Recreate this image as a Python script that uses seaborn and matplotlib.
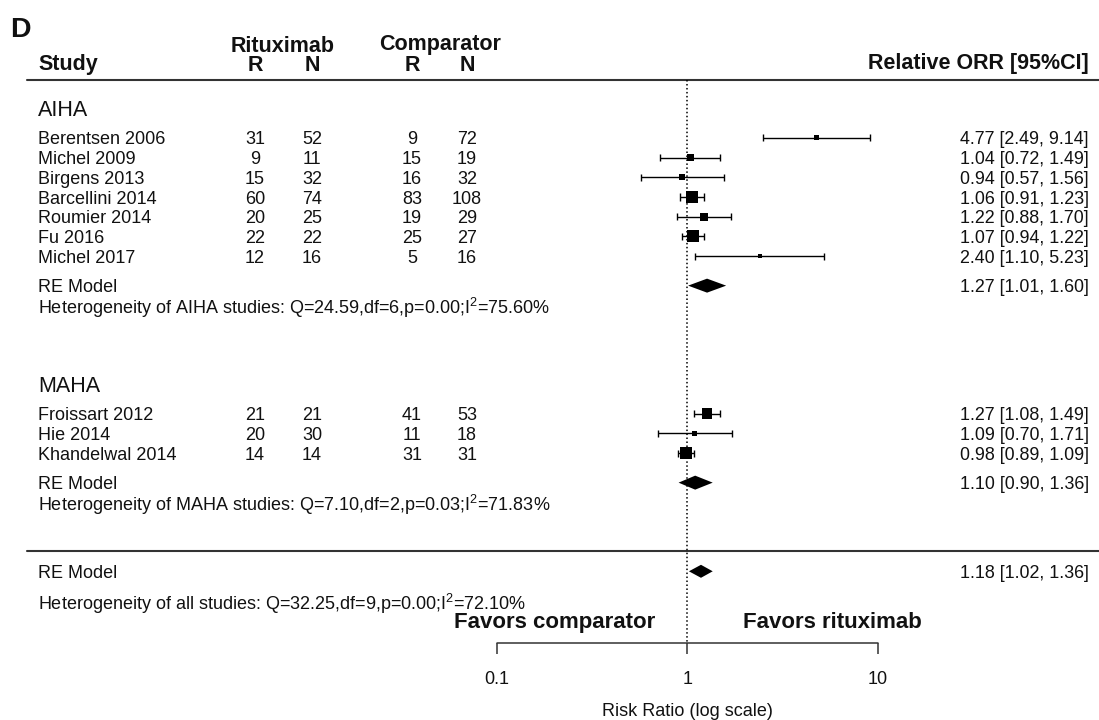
import numpy as np
import pandas as pd
import matplotlib
matplotlib.use("Agg")
import matplotlib.pyplot as plt
import seaborn as sns
from matplotlib.transforms import blended_transform_factory

# ---------------- data ----------------
studies = ["Berentsen 2006", "Michel 2009", "Birgens 2013", "Barcellini 2014",
           "Roumier 2014", "Fu 2016", "Michel 2017",
           "Froissart 2012", "Hie 2014", "Khandelwal 2014"]
groups = ["AIHA"] * 7 + ["MAHA"] * 3
rit_r = [31, 9, 15, 60, 20, 22, 12, 21, 20, 14]
rit_n = [52, 11, 32, 74, 25, 22, 16, 21, 30, 14]
com_r = [9, 15, 16, 83, 19, 25, 5, 41, 11, 31]
com_n = [72, 19, 32, 108, 29, 27, 16, 53, 18, 31]
rr = [4.77, 1.04, 0.94, 1.06, 1.22, 1.07, 2.40, 1.27, 1.09, 0.98]
ci_lo = [2.49, 0.72, 0.57, 0.91, 0.88, 0.94, 1.10, 1.08, 0.70, 0.89]
ci_hi = [9.14, 1.49, 1.56, 1.23, 1.70, 1.22, 5.23, 1.49, 1.71, 1.09]
weights = [4.0, 8.0, 5.5, 15.0, 9.0, 16.0, 2.5, 14.0, 4.5, 16.0]   # estimated

model_names = ["AIHA", "MAHA", "all"]
model_est = [1.27, 1.10, 1.18]
model_lo = [1.01, 0.90, 1.02]
model_hi = [1.60, 1.36, 1.36]
het_q = ["24.59", "7.10", "32.25"]
het_df = [6, 2, 9]
het_p = ["0.00", "0.03", "0.00"]
het_i2 = ["75.60", "71.83", "72.10"]

axis_ticks = [0.1, 1, 10]
axis_tick_labels = ["0.1", "1", "10"]

# ---------------- layout ----------------
W, H = 1099, 720
ROW = 19.7                      # pixels per row
study_rows = [7, 8, 9, 10, 11, 12, 13, 21, 22, 23]
group_label_rows = {"AIHA": 5.5, "MAHA": 19.5}
model_rows = [14.5, 24.5, 29.0]
het_rows = [15.5, 25.5, 30.5]
x_one_px, decade_px = 687.3, 190.3

sns.set_theme(style="white")
plt.rcParams["font.family"] = ["Liberation Sans", "DejaVu Sans"]
plt.rcParams["mathtext.fontset"] = "custom"
plt.rcParams["mathtext.rm"] = "Liberation Sans"
plt.rcParams["mathtext.it"] = "Liberation Sans:italic"
plt.rcParams["mathtext.bf"] = "Liberation Sans:bold"

fig = plt.figure(figsize=(W / 100, H / 100), dpi=100)
ax = fig.add_axes([0, 0, 1, 1])
ax.set_xscale("log")
ax.set_xlim(10 ** (-x_one_px / decade_px), 10 ** ((W - x_one_px) / decade_px))
ax.set_ylim(H / ROW, 0)
ax.axis("off")

tr = blended_transform_factory(ax.transAxes, ax.transData)
def fx(px):
    return px / W
def py(px):
    return px / ROW

TXT = "#111111"
LINE = "#333333"

# header
ax.text(fx(10), py(27), "D", transform=tr, fontsize=20.5, fontweight="bold",
        ha="left", va="center_baseline", color=TXT)
ax.text(fx(38), py(62), "Study", transform=tr, fontsize=15.5, fontweight="bold",
        ha="left", va="center_baseline", color=TXT)
ax.text(fx(283), py(44), "Rituximab", transform=tr, fontsize=15.5, fontweight="bold",
        ha="center", va="center_baseline", color=TXT)
ax.text(fx(440), py(42), "Comparator", transform=tr, fontsize=15.5, fontweight="bold",
        ha="center", va="center_baseline", color=TXT)
for xpx, lab in [(255, "R"), (312, "N"), (412, "R"), (467, "N")]:
    ax.text(fx(xpx), py(63), lab, transform=tr, fontsize=15.5, fontweight="bold",
            ha="center", va="center_baseline", color=TXT)
ax.text(fx(1089), py(61), "Relative ORR [95%CI]", transform=tr, fontsize=15.5,
        fontweight="bold", ha="right", va="center_baseline", color=TXT)

# horizontal rules
ax.plot([fx(27), 1], [py(80), py(80)], transform=tr, color=LINE, lw=1.5)
ax.plot([fx(27), 1], [py(551), py(551)], transform=tr, color=LINE, lw=1.5)

# group labels
for g, r in group_label_rows.items():
    ax.text(fx(38), r, g, transform=tr, fontsize=15.5, ha="left",
            va="center_baseline", color=TXT)

# study rows text
for i, s in enumerate(studies):
    r = study_rows[i]
    ax.text(fx(38), r, s, transform=tr, fontsize=13, ha="left",
            va="center_baseline", color=TXT)
    for xpx, v in [(255, rit_r[i]), (312, rit_n[i]), (412, com_r[i]), (467, com_n[i])]:
        ax.text(fx(xpx), r, str(v), transform=tr, fontsize=13, ha="center",
                va="center_baseline", color=TXT)
    ax.text(fx(1089), r, f"{rr[i]:.2f} [{ci_lo[i]:.2f}, {ci_hi[i]:.2f}]",
            transform=tr, fontsize=12.9, ha="right", va="center_baseline", color=TXT)

# whiskers and caps
cap = py(3.5)
ax.hlines(study_rows, ci_lo, ci_hi, color="black", lw=1.0)
ax.vlines(ci_lo, np.array(study_rows) - cap, np.array(study_rows) + cap, color="black", lw=1.0)
ax.vlines(ci_hi, np.array(study_rows) - cap, np.array(study_rows) + cap, color="black", lw=1.0)

# squares
df = pd.DataFrame({"rr": rr, "row": study_rows, "w": weights})
wmin, wmax = min(weights), max(weights)
size_map = {w: ((4 + (w - wmin) / (wmax - wmin) * 8) * 0.72) ** 2 for w in weights}
sns.scatterplot(data=df, x="rr", y="row", size="w", sizes=size_map, marker="s",
                color="black", linewidth=0, legend=False, ax=ax, zorder=3)

# summary diamonds and texts
for j in range(3):
    r = model_rows[j]
    h = py(7) if j < 2 else py(6.5)
    ax.fill([model_lo[j], model_est[j], model_hi[j], model_est[j]],
            [r, r - h, r, r + h], color="black", lw=0, zorder=3)
    ax.text(fx(38), r, "RE Model", transform=tr, fontsize=13, ha="left",
            va="center_baseline", color=TXT)
    ax.text(fx(1089), r, f"{model_est[j]:.2f} [{model_lo[j]:.2f}, {model_hi[j]:.2f}]",
            transform=tr, fontsize=12.9, ha="right", va="center_baseline", color=TXT)
    ax.text(fx(38), het_rows[j],
            f"Heterogeneity of {model_names[j]} studies: Q={het_q[j]},df={het_df[j]},"
            f"p={het_p[j]};I$^2$={het_i2[j]}%",
            transform=tr, fontsize=13, ha="left", va="center_baseline", color=TXT)

# reference line at 1
ax.plot([1, 1], [py(80), py(643)], color="black", lw=1.1, ls=(0, (1, 1.6)))

# bottom axis
y_ax = py(643)
ax.plot([axis_ticks[0], axis_ticks[-1]], [y_ax, y_ax], color=LINE, lw=1.1)
ax.vlines(axis_ticks, y_ax, y_ax + py(11), color=LINE, lw=1.1)
for t, lab in zip(axis_ticks, axis_tick_labels):
    ax.text(t, py(677), lab, fontsize=13, ha="center", va="center_baseline", color=TXT)
ax.text(1, py(710), "Risk Ratio (log scale)", fontsize=13, ha="center",
        va="center_baseline", color=TXT)

ax.text(fx(555), py(620), "Favors comparator", transform=tr, fontsize=16,
        fontweight="bold", ha="center", va="center_baseline", color=TXT)
ax.text(fx(832), py(620), "Favors rituximab", transform=tr, fontsize=16,
        fontweight="bold", ha="center", va="center_baseline", color=TXT)

fig.savefig("out.png", dpi=100, facecolor="white")
